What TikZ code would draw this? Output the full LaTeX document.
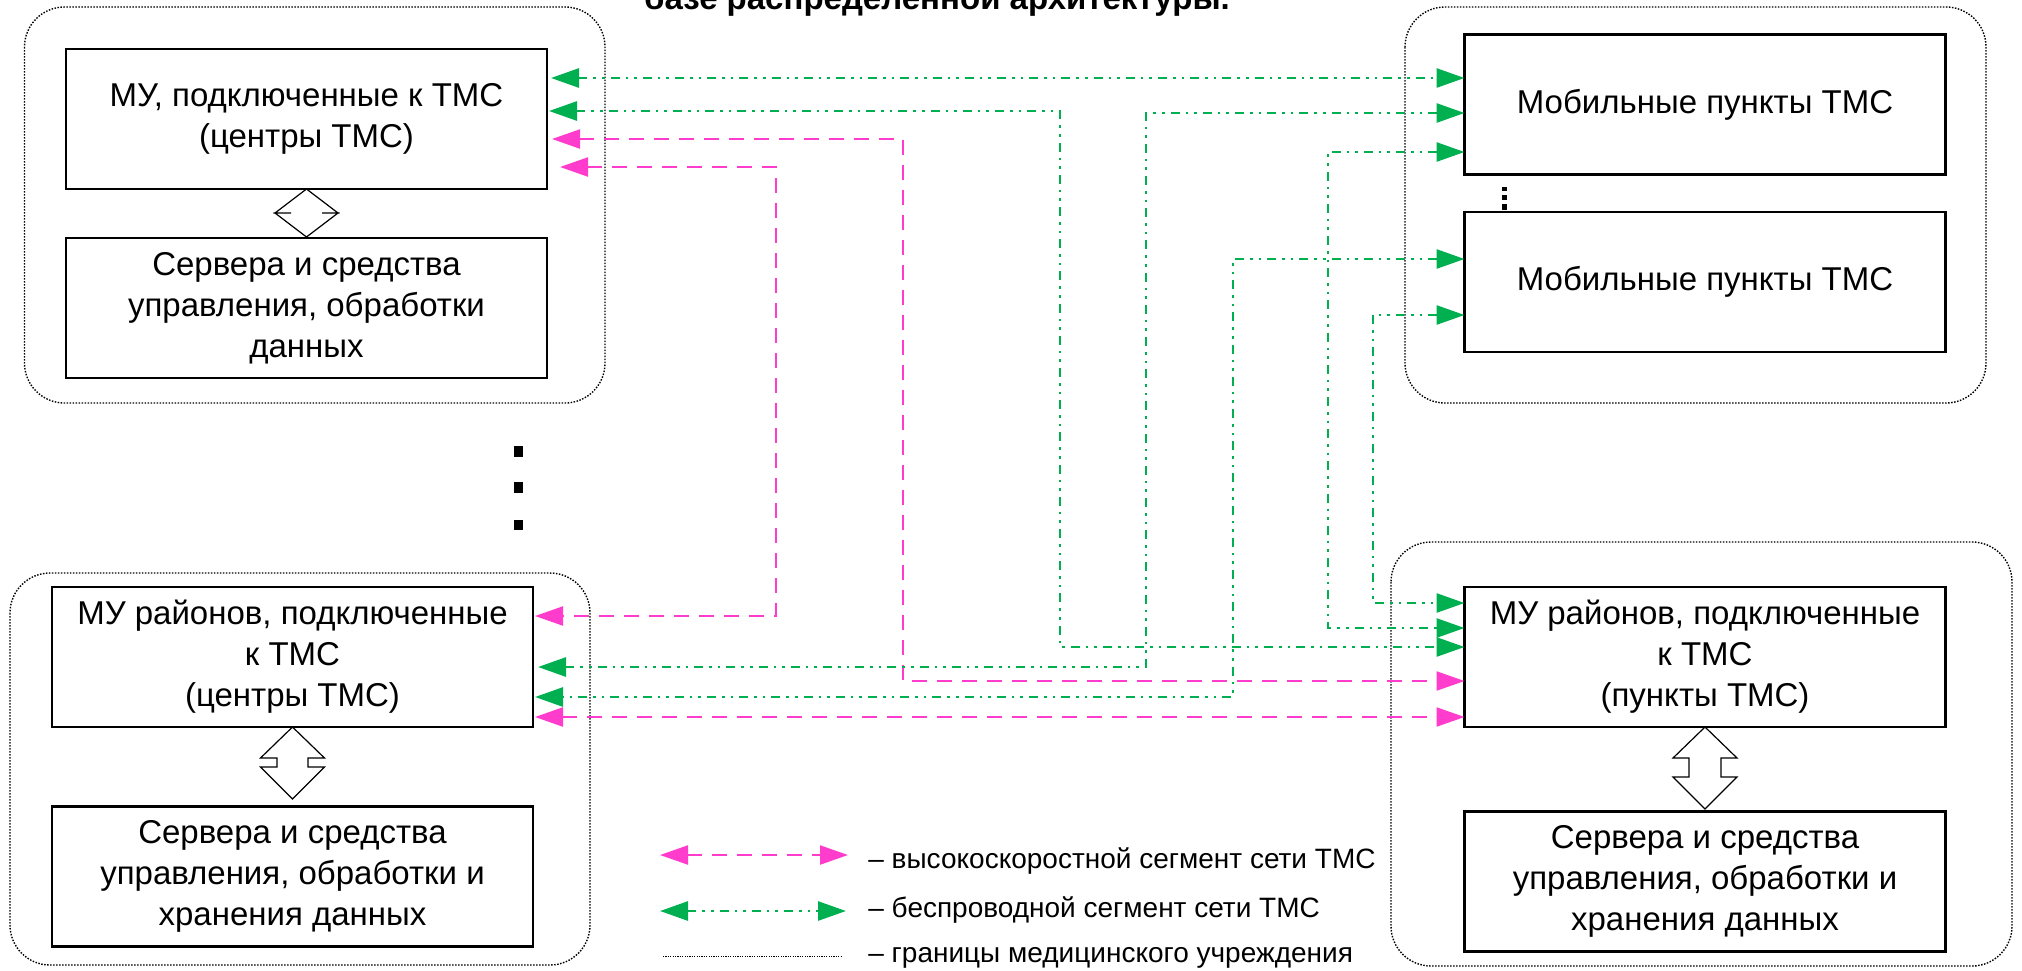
\documentclass[tikz,border=0pt]{standalone}
\usepackage{fontspec}
\setmainfont{Liberation Sans}
\usetikzlibrary{arrows.meta}
\definecolor{gr}{RGB}{0,176,80}
\definecolor{pk}{RGB}{255,60,204}
\begin{document}
\begin{tikzpicture}[x=0.5pt,y=-0.5pt,
  box/.style={draw, fill=white, line width=1.3pt, inner sep=0pt, outer sep=0pt,
    minimum width=240.5pt, minimum height=70pt, align=center,
    font=\fontsize{16.5}{20.5}\selectfont},
  grp/.style={line width=0.7pt, dash pattern=on 0.75pt off 0.75pt, rounded corners=20pt},
  gl/.style={gr, line width=1.4pt,
    dash pattern=on 4.5pt off 3pt on 1.3pt off 3pt on 1.3pt off 3pt,
    {Triangle[length=14pt,width=9.5pt]}-{Triangle[length=14pt,width=9.5pt]}},
  pl/.style={pk, line width=1.1pt, dash pattern=on 7.5pt off 5pt,
    {Triangle[length=14pt,width=9.5pt]}-{Triangle[length=14pt,width=9.5pt]}},
  fat/.style={draw, fill=white, line width=0.6pt, line join=miter},
  legtext/.style={anchor=base west, inner sep=0pt, font=\fontsize{14}{17}\selectfont},
]
\useasboundingbox (0,0) rectangle (2022,970);

% title (cut by page edge)
\node[anchor=base, inner sep=0pt, font=\bfseries\fontsize{16.5}{20}\selectfont] (title) at (937,9) {базе распределенной архитектуры.};

% institution borders
\draw[grp] (24.5,7) rectangle (605,403);
\draw[grp] (1405,7) rectangle (1986,403);
\draw[grp] (10,573) rectangle (590,965);
\draw[grp] (1391,542) rectangle (2012,966);

% boxes
\node[box] (A) at (306.5,119) {МУ, подключенные к ТМС\\(центры ТМС)};
\node[box] (B) at (306.5,308) {Сервера и средства\\управления, обработки\\данных};
\node[box] (C) at (1705,104.5) {Мобильные пункты ТМС};
\node[box] (D) at (1705,282) {Мобильные пункты ТМС};
\node[box] (E) at (292.5,657) {МУ районов, подключенные\\к ТМС\\(центры ТМС)};
\node[box] (F) at (292.5,876.5) {Сервера и средства\\управления, обработки и\\хранения данных};
\node[box] (G) at (1705,657) {МУ районов, подключенные\\к ТМС\\(пункты ТМС)};
\node[box] (H) at (1705,881.5) {Сервера и средства\\управления, обработки и\\хранения данных};

% internal double arrows
\draw[fat] (A.south) -- ++(-31.5,24) -- ++(16,0) -- ++(-16,0) -- ++(31.5,24)
  -- ++(31.5,-24) -- ++(-16,0) -- ++(16,0) -- cycle;
\draw[fat] (E.south) -- ++(-32,31) -- ++(16.5,0) -- ++(0,9) -- ++(-16.5,0) -- ++(32,32)
  -- ++(32,-32) -- ++(-16.5,0) -- ++(0,-9) -- ++(16.5,0) -- cycle;
\draw[fat] (G.south) -- ++(-32,31) -- ++(16,0) -- ++(0,19) -- ++(-16,0) -- ++(32,32)
  -- ++(32,-32) -- ++(-16,0) -- ++(0,-19) -- ++(16,0) -- cycle;

% ellipsis marks
\fill (514,446) rectangle (523,457);
\fill (514,482) rectangle (523,493);
\fill (514,520) rectangle (523,530);
\fill (1502,187) rectangle (1507,191);
\fill (1502,195) rectangle (1507,200);
\fill (1502,204) rectangle (1507,210);

% connectors
\draw[gl, shorten <=2pt] (A.east |- 0,78) -- (C.west |- 0,78);
\draw[gl, shorten <=1pt] (A.east |- 0,111) -| (1060,647) -- (G.west |- 0,647);
\draw[pl, shorten <=2.5pt] (A.east |- 0,139) -| (903,681) -- (G.west |- 0,681);
\draw[pl, shorten <=6.5pt] (A.east |- 0,167) -| (776,616) -- ([xshift=1pt]E.east |- 0,616);
\draw[gl] (C.west |- 0,113) -| (1146,667) -- ([xshift=2.5pt]E.east |- 0,667);
\draw[gl] (C.west |- 0,152) -| (1328,628) -- (G.west |- 0,628);
\draw[gl] (D.west |- 0,259) -| (1233,697) -- ([xshift=1pt]E.east |- 0,697);
\draw[gl] (D.west |- 0,315) -| (1373,603) -- (G.west |- 0,603);
\draw[pl, shorten <=1pt] (E.east |- 0,717) -- (G.west |- 0,717);

% legend
\coordinate (l1a) at (660,855); \coordinate (l1b) at (848,855);
\coordinate (l2a) at (660,911); \coordinate (l2b) at (846,911);
\coordinate (l3a) at (663,956); \coordinate (l3b) at (842,956);
\draw[pl] (l1a) -- (l1b);
\draw[gl] (l2a) -- (l2b);
\draw[line width=0.5pt, dash pattern=on 0.6pt off 0.6pt] (l3a) -- (l3b);
\node[legtext] (t1) at (868,868) {– высокоскоростной сегмент сети ТМС};
\node[legtext] (t2) at (868,917) {– беспроводной сегмент сети ТМС};
\node[legtext] (t3) at (868,962) {– границы медицинского учреждения};
\end{tikzpicture}
\end{document}
